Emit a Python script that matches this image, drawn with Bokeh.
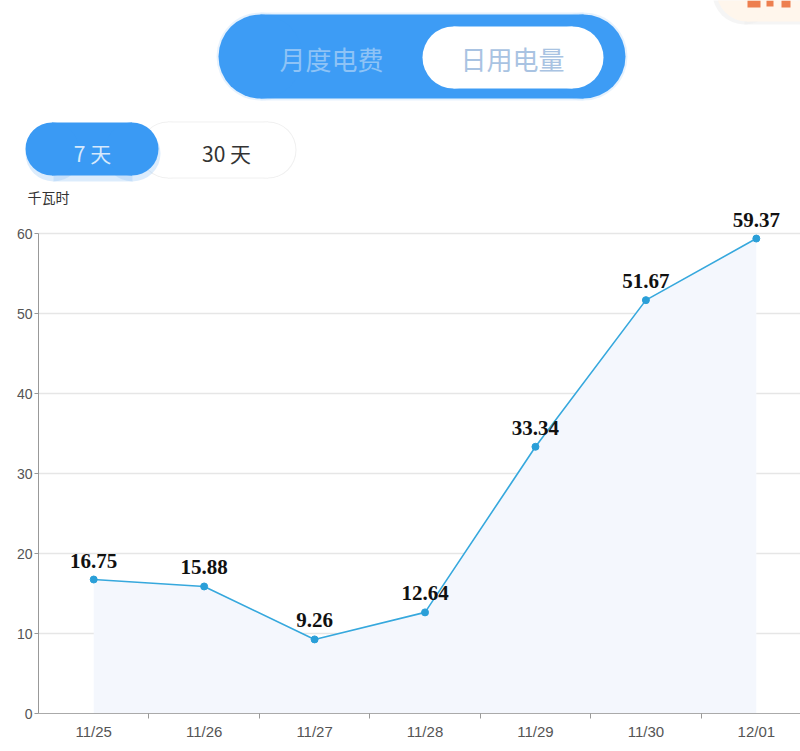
from bokeh.plotting import figure
from bokeh.layouts import column
from bokeh.models import Range1d, FixedTicker, ColumnDataSource
from bokeh.core.properties import value
from bokeh.embed import file_html
from bokeh.resources import INLINE

# ---- data ----
dates = ["11/25", "11/26", "11/27", "11/28", "11/29", "11/30", "12/01"]
usage = [16.75, 15.88, 9.26, 12.64, 33.34, 51.67, 59.37]
y_ticks = [0, 10, 20, 30, 40, 50, 60]
unit_label = "千瓦时"
tab_labels = ["月度电费", "日用电量"]
range_labels = ["7 天", "30 天"]

CJK = "Noto Sans CJK SC"
W = 800
HH = 207  # header height

# ---------------- header (UI decoration) ----------------
hdr = figure(width=W, height=HH, x_range=Range1d(0, W), y_range=Range1d(HH, 0),
             output_backend="svg", toolbar_location=None,
             x_axis_location=None, y_axis_location=None,
             min_border=0, outline_line_color=None)
hdr.grid.visible = False
hdr.frame_align = False


def pill(p, x0, x1, y0, y1, color, alpha=1.0):
    r = (y1 - y0) / 2.0
    p.quad(left=[x0 + r], right=[x1 - r], top=[y0], bottom=[y1],
           fill_color=color, line_color=None, fill_alpha=alpha)
    p.ellipse(x=[x0 + r, x1 - r], y=[(y0 + y1) / 2.0] * 2, width=2 * r, height=2 * r,
              fill_color=color, line_color=None, fill_alpha=alpha)


# top-right partial badge (cut off by the screen edge)
pill(hdr, 712, 860, -40, 24, "#efefef", 0.6)
pill(hdr, 716, 860, -40, 21, "#fff6ec")
hdr.quad(left=[747, 766, 781], right=[760, 773, 790], top=[0, 0, 0], bottom=[7, 6, 7],
         fill_color="#ea6a34", line_color=None, fill_alpha=0.85)

# main tab pill
pill(hdr, 216, 627, 12, 100, "#d7e9fb", 0.6)
pill(hdr, 218, 625, 14, 98, "#3d9cf5")
pill(hdr, 422, 603, 26, 88, "#ffffff")
hdr.text(x=[331, 512], y=[58, 58], text=tab_labels, text_color=["#8ec3f6", "#a9c3e2"],
         text_font_size="26px", text_align="center", text_baseline="middle",
         text_font=value(CJK))

# 7 / 30 day toggle
pill(hdr, 139, 296, 121, 178, "#f0f0f0")
pill(hdr, 140, 295, 122, 177, "#ffffff")
pill(hdr, 25, 160, 125, 181, "#9cc9f5", 0.35)
pill(hdr, 25, 158, 122, 175, "#3a9af4")
hdr.text(x=[92, 226], y=[152, 152], text=range_labels, text_color=["#d6e9fc", "#333333"],
         text_font_size="21px", text_align="center", text_baseline="middle",
         text_font=value(CJK))

# unit label of the y axis
hdr.text(x=[27], y=[196], text=[unit_label], text_color="#333333", text_font_size="14px",
         text_align="left", text_baseline="middle", text_font=value(CJK))

# ---------------- chart ----------------
CH = 751 - HH
FRAME_H = 713 - HH
xs = list(range(len(dates)))
src = ColumnDataSource(dict(x=xs, y=usage, lbl=["%.2f" % v for v in usage]))

p = figure(width=W, height=CH, x_range=Range1d(-0.5, 6.4), y_range=Range1d(0, FRAME_H / 8.0),
           output_backend="svg", toolbar_location=None,
           min_border_left=38, min_border_right=0, min_border_top=0,
           min_border_bottom=CH - FRAME_H,
           outline_line_color=None, background_fill_color="white", border_fill_color="white")
p.frame_align = False

p.xgrid.visible = False
p.ygrid.grid_line_color = "#e6e6e6"
p.ygrid.grid_line_width = 1.5

p.varea(x="x", y1=0, y2="y", source=src, fill_color="#f4f7fd")
p.line(x="x", y="y", source=src, line_color="#36a8dd", line_width=1.6)
p.scatter(x="x", y="y", source=src, size=7, fill_color="#2a9fd8", line_color="#2a9fd8")
p.text(x="x", y="y", text="lbl", source=src, y_offset=-19, text_align="center",
       text_baseline="alphabetic", text_font=value("Liberation Serif"),
       text_font_style="bold", text_font_size="21px", text_color="#111111")

# y axis
ya = p.yaxis[0]
ya.ticker = FixedTicker(ticks=y_ticks)
ya.bounds = (0, 60)
ya.axis_line_color = "#999999"
ya.major_tick_line_color = "#999999"
ya.major_tick_in = 0
ya.major_tick_out = 4
ya.minor_tick_line_color = None
ya.major_label_text_font = "Liberation Sans"
ya.major_label_text_font_size = "14px"
ya.major_label_text_color = "#555555"
ya.major_label_standoff = 2

# x axis
xa = p.xaxis[0]
xa.ticker = FixedTicker(ticks=xs, minor_ticks=[i + 0.5 for i in xs[:-1]])
xa.major_label_overrides = {i: d for i, d in zip(xs, dates)}
xa.axis_line_color = "#aaaaaa"
xa.major_tick_line_color = None
xa.minor_tick_line_color = "#999999"
xa.minor_tick_in = 0
xa.minor_tick_out = 5
xa.major_label_text_font = "Liberation Sans"
xa.major_label_text_font_size = "15px"
xa.major_label_text_color = "#555555"
xa.major_label_standoff = 3

layout = column(hdr, p)
open("out.html", "w").write(file_html(layout, INLINE))
